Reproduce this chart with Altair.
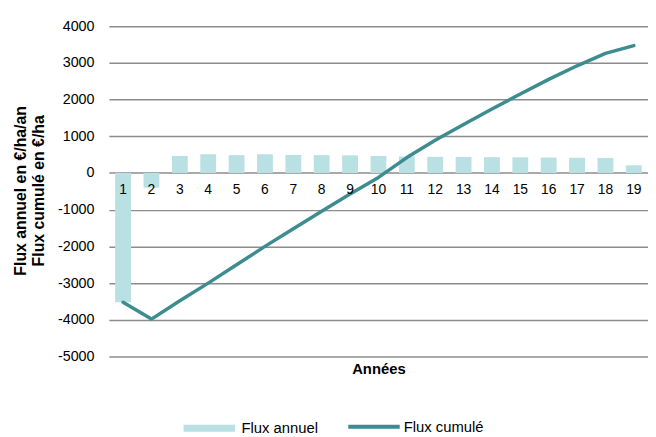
import altair as alt
import pandas as pd

years = [str(i) for i in range(1, 20)]
annual = [-3520, -400, 465, 510, 485, 510, 490, 485, 480, 465, 450, 440, 437, 430, 425, 420, 415, 410, 210]
cumul = [-3520, -3980, -3480, -3000, -2500, -2000, -1520, -1040, -570, -120, 420, 890, 1320, 1745, 2150, 2550, 2920, 3260, 3470]
y_ticks = [4000, 3000, 2000, 1000, 0, -1000, -2000, -3000, -4000, -5000]

df = pd.DataFrame({
    "year": years,
    "annual": annual,
    "cumul": cumul,
    "s1": "Flux annuel",
    "s2": "Flux cumulé",
})

FONT = "Liberation Sans"
BAR = "#b9e0e3"
LINE = "#3d8c8f"

x_enc = alt.X(
    "year:N", sort=years,
    scale=alt.Scale(paddingInner=0, paddingOuter=0),
    axis=alt.Axis(labels=False, ticks=False, domain=False, grid=False,
                  title="Années", titleFont=FONT, titleFontSize=15,
                  titleFontWeight="bold", titleColor="#000", titlePadding=5),
)
y_scale = alt.Scale(domain=[-5000, 4000], nice=False)
y_axis = alt.Axis(
    values=y_ticks, tickCount=len(y_ticks), domain=False, ticks=False, labelOverlap=False,
    labelExpr="datum.value < 0 ? '-' + abs(datum.value) : '' + datum.value",
    grid=True, gridColor="#8c8c8c", gridWidth=1.5,
    labelFont=FONT, labelFontSize=14.5, labelColor="#000", labelPadding=15,
    title=["Flux annuel en €/ha/an", "Flux cumulé en €/ha"],
    titleFont=FONT, titleFontSize=16, titleFontWeight="bold", titleColor="#000",
    titleAngle=270, titleX=-81, titleY=166, titleAlign="center", titleLineHeight=18,
)

bars = alt.Chart(df).mark_bar(size=16).encode(
    x=x_enc,
    y=alt.Y("annual:Q", scale=y_scale, axis=y_axis),
    color=alt.Color("s1:N", scale=alt.Scale(domain=["Flux annuel"], range=[BAR]),
                    legend=alt.Legend(title=None, orient="none", legendX=72, legendY=377,
                                      symbolType="stroke", symbolStrokeColor=BAR,
                                      symbolStrokeWidth=7, symbolSize=2704,
                                      labelFont=FONT, labelFontSize=15, labelColor="#000",
                                      labelOffset=3, labelLimit=200)),
)

labels = alt.Chart(df).mark_text(font=FONT, fontSize=14, color="#000", dy=17, baseline="middle").encode(
    x=alt.X("year:N", sort=years),
    y=alt.datum(0),
    text="year:N",
)

line = alt.Chart(df).mark_line(strokeWidth=3.5, strokeCap="round", strokeJoin="round").encode(
    x=alt.X("year:N", sort=years),
    y=alt.Y("cumul:Q", scale=y_scale),
    stroke=alt.Stroke("s2:N", scale=alt.Scale(domain=["Flux cumulé"], range=[LINE]),
                      legend=alt.Legend(title=None, orient="none", legendX=240, legendY=377,
                                        symbolType="stroke", symbolStrokeWidth=4,
                                        symbolSize=2704,
                                        labelFont=FONT, labelFontSize=15, labelColor="#000",
                                        labelOffset=2, labelLimit=200)),
)

chart = alt.layer(bars, line, labels).resolve_scale(color="independent").properties(
    width=545, height=334,
    autosize=alt.AutoSizeParams(type="none"),
    padding={"left": 102, "top": 16, "right": 0, "bottom": 79},
).configure_view(stroke=None)

chart.save("out.html", embed_options={"renderer": "svg", "actions": False})
